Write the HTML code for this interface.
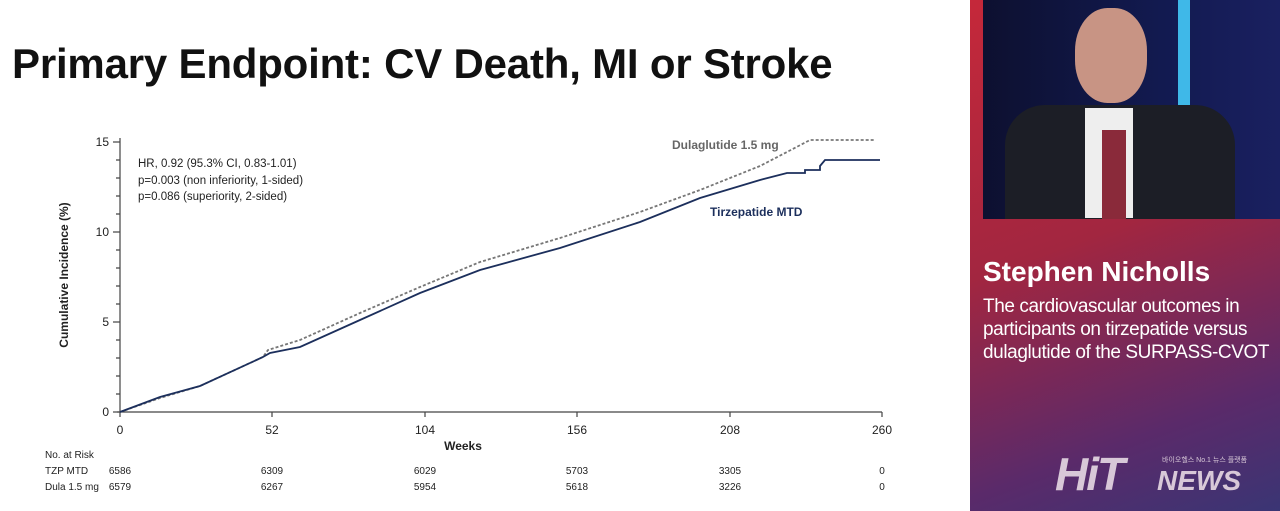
<!DOCTYPE html>
<html><head><style>
body{margin:0;width:1280px;height:511px;overflow:hidden;background:#fff;font-family:"Liberation Sans",Arial,sans-serif;position:relative}
.side{position:absolute;left:970px;top:0;width:310px;height:511px;background:linear-gradient(160deg,#c5283a 0%,#a22640 45%,#5a2a6a 80%,#3a3574 100%)}
.photo{position:absolute;left:983px;top:0;width:297px;height:219px;background:linear-gradient(90deg,#0d1030 0%,#121a50 60%,#1a2060 100%)}
</style></head><body>
<div style="position:absolute;left:12px;top:40px;font-size:42px;font-weight:bold;color:#111;letter-spacing:-0.2px">Primary Endpoint: CV Death, MI or Stroke</div>
<svg width="970" height="511" style="position:absolute;left:0;top:0" font-family="Liberation Sans,Arial,sans-serif">
<g stroke="#444" stroke-width="1.2" fill="none">
<line x1="120" y1="138" x2="120" y2="412"/><line x1="117" y1="412" x2="882" y2="412"/>
<line x1="113" y1="412" x2="120" y2="412"/><line x1="113" y1="322" x2="120" y2="322"/><line x1="113" y1="232" x2="120" y2="232"/><line x1="113" y1="142" x2="120" y2="142"/>
<path d="M116 394H120M116 376H120M116 358H120M116 340H120M116 304H120M116 286H120M116 268H120M116 250H120M116 214H120M116 196H120M116 178H120M116 160H120"/>
<path d="M120 412v5M272 412v5M425 412v5M577 412v5M730 412v5M882 412v5"/>
</g>
<g font-size="12" fill="#222" text-anchor="end"><text x="109" y="416">0</text><text x="109" y="326">5</text><text x="109" y="236">10</text><text x="109" y="146">15</text></g>
<g font-size="12" fill="#222" text-anchor="middle"><text x="120" y="434">0</text><text x="272" y="434">52</text><text x="425" y="434">104</text><text x="577" y="434">156</text><text x="730" y="434">208</text><text x="882" y="434">260</text>
<text x="463" y="450" font-weight="bold">Weeks</text></g>
<text transform="translate(68,275) rotate(-90)" font-size="12" font-weight="bold" fill="#222" text-anchor="middle">Cumulative Incidence (%)</text>
<g font-size="11.5" fill="#222"><text x="138" y="167">HR, 0.92 (95.3% CI, 0.83-1.01)</text><text x="138" y="184">p=0.003 (non inferiority, 1-sided)</text><text x="138" y="200">p=0.086 (superiority, 2-sided)</text></g>
<text x="672" y="149" font-size="12" font-weight="bold" fill="#666">Dulaglutide 1.5 mg</text>
<text x="710" y="216" font-size="12" font-weight="bold" fill="#1c2f5c">Tirzepatide MTD</text>
<polyline fill="none" stroke="#777" stroke-width="1.8" stroke-dasharray="3,2" points="120,412 160,398 200,386 263,357 268,350 300,340 360,313 420,287 480,262 560,238 640,212 700,190 760,166 787,152 810,140 875,140"/>
<polyline fill="none" stroke="#1c2f5c" stroke-width="1.8" points="120,412 160,397 200,386 263,357 270,353 300,347 360,320 420,293 480,270 560,248 640,222 700,198 760,180 787,173 805,173 805,170 820,170 820,166 825,160 880,160"/>
<g font-size="10" fill="#222"><text x="45" y="458">No. at Risk</text><text x="45" y="474">TZP MTD</text><text x="45" y="490">Dula 1.5 mg</text></g>
<g font-size="10" fill="#222" text-anchor="middle">
<text x="120" y="474">6586</text><text x="272" y="474">6309</text><text x="425" y="474">6029</text><text x="577" y="474">5703</text><text x="730" y="474">3305</text><text x="882" y="474">0</text>
<text x="120" y="490">6579</text><text x="272" y="490">6267</text><text x="425" y="490">5954</text><text x="577" y="490">5618</text><text x="730" y="490">3226</text><text x="882" y="490">0</text></g>
</svg>
<div class="side"></div>
<div class="photo"></div>
<div style="position:absolute;left:1178px;top:0;width:12px;height:120px;background:#3fb8e8"></div>
<div style="position:absolute;left:1075px;top:8px;width:72px;height:95px;border-radius:45%;background:#c89484"></div>
<div style="position:absolute;left:1005px;top:105px;width:230px;height:114px;border-radius:40px 40px 0 0;background:#1c1e26"></div>
<div style="position:absolute;left:1085px;top:108px;width:48px;height:110px;background:#eee"></div>
<div style="position:absolute;left:1102px;top:130px;width:24px;height:89px;background:#8a2a3a"></div>
<div style="position:absolute;left:983px;top:256px;color:#fff;font-size:28px;font-weight:bold">Stephen Nicholls</div>
<div style="position:absolute;left:983px;top:295px;color:#fff;font-size:19px;line-height:23px;letter-spacing:-0.4px">The cardiovascular outcomes in<br>participants on tirzepatide versus<br>dulaglutide of the SURPASS-CVOT</div>
<div style="position:absolute;left:1055px;top:447px;color:#d8c8d8;font-size:46px;font-weight:bold;font-style:italic;letter-spacing:-2px">HiT</div>
<div style="position:absolute;left:1157px;top:465px;color:#d8c8d8;font-size:28px;font-weight:bold;font-style:italic">NEWS</div>
<div style="position:absolute;left:1162px;top:455px;color:#d8c8d8;font-size:7px;font-family:'Liberation Sans','Noto Sans CJK KR',sans-serif">바이오헬스 No.1 뉴스 플랫폼</div>
</body></html>
